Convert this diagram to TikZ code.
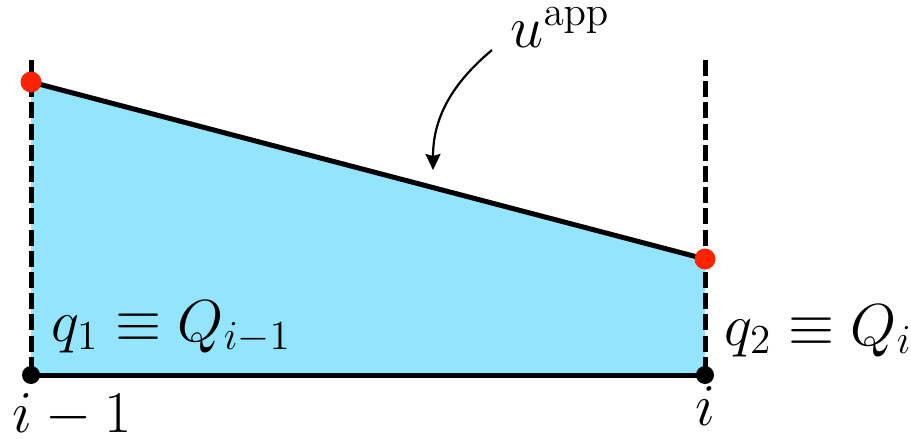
\documentclass[tikz,border=0pt]{standalone}
\usepackage{graphicx}
\usetikzlibrary{arrows.meta}
\definecolor{fillblue}{RGB}{147,229,253}
\definecolor{dotred}{RGB}{255,34,0}
\newcommand{\biglbl}[1]{\scalebox{1.43}{\huge #1}}
\begin{document}
\begin{tikzpicture}[x=0.5pt,y=-0.5pt,
  lbl/.style={inner sep=0pt},
  solidline/.style={line width=2.5pt},
  dashline/.style={line width=2.5pt,dash pattern=on 8pt off 2.6pt},
  reddot/.style={circle,fill=dotred,minimum size=10.5pt,inner sep=0pt},
  blackdot/.style={circle,fill=black,minimum size=9pt,inner sep=0pt}]
\useasboundingbox (0,0) rectangle (911,439);
\coordinate (A) at (31,82);
\coordinate (B) at (705,259);
\coordinate (C) at (705,375);
\coordinate (D) at (31,375);
\coordinate (At) at (31,60);
\coordinate (Bt) at (705,60);
\fill[fillblue] (A) -- (B) -- (C) -- (D) -- cycle;
\draw[dashline] (At) -- (D);
\draw[dashline] (Bt) -- (C);
\draw[solidline] (A) -- (B);
\draw[solidline] (D) -- (C);
\node[reddot] (pA) at (A) {};
\node[reddot] (pB) at (B) {};
\node[blackdot] (pD) at (D) {};
\node[blackdot] (pC) at (C) {};
\node[lbl,anchor=base west] (u) at (510,47) {\biglbl{$u^{\mathrm{app}}$}};
\node[lbl,anchor=base west] (q1) at (51,341) {\biglbl{$q_1\equiv Q_{i-1}$}};
\node[lbl,anchor=base west] (q2) at (724,345) {\biglbl{$q_2\equiv Q_i$}};
\node[lbl,anchor=base west] (im1) at (12,432) {\biglbl{$i-1$}};
\node[lbl,anchor=base] (ii) at (705,425) {\biglbl{$i$}};
\coordinate (as) at (492,50);
\coordinate (ae) at (433,170);
\draw[line width=1.1pt,-{Stealth[length=8pt,width=7.5pt,inset=1pt]}] (as) to[out=-140,in=90] (ae);
\end{tikzpicture}
\end{document}
